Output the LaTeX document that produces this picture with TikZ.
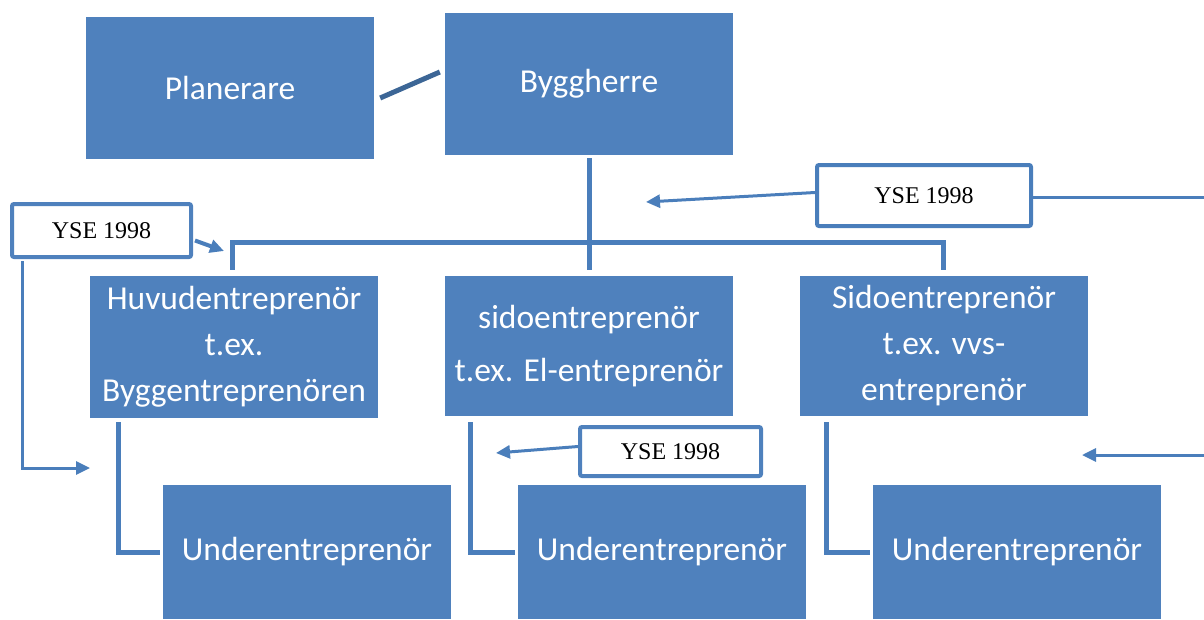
\documentclass[tikz,border=0pt]{standalone}
\usepackage{fontspec}
\setmainfont{Carlito}
\newfontfamily\ysefont{Liberation Serif}
\usetikzlibrary{arrows.meta}
\definecolor{boxblue}{HTML}{4F81BD}
\definecolor{lineblue}{HTML}{4A7EBB}
\definecolor{darkline}{HTML}{3C6696}
\tikzset{
  box/.style={fill=boxblue, draw=none, minimum width=288pt, minimum height=142pt, inner sep=0pt,
    text=white, align=center, font=\fontsize{33.5}{46}\selectfont},
  ysebox/.style={draw=boxblue, line width=4pt, rounded corners=2pt, fill=white, inner sep=0pt,
    font=\ysefont\fontsize{24}{26}\selectfont},
  conn/.style={draw=lineblue, line width=5pt},
  arr/.style={draw=lineblue, line width=3pt, -{Triangle[length=14pt,width=13pt]}},
}
\begin{document}
\begin{tikzpicture}[x=1pt,y=-1pt]
\useasboundingbox (0,0) rectangle (1204,619);
% boxes
\node[box] (plan) at (230,87.5) {Planerare};
\node[box] (bygg) at (589,84) {Byggherre};
\node[box] (huvud) at (234,347) {Huvudentreprenör\\t.ex.\\Byggentreprenören};
\node[box, minimum height=140pt] (sido) at (589,346) {sidoentreprenör\\[7pt]t.ex. El-entreprenör};
\node[box, minimum height=140pt] (sidoR) at (944,346) {Sidoentreprenör\\t.ex. vvs-\\entreprenör};
\node[box, minimum height=134pt] (ue1) at (307,552) {Underentreprenör};
\node[box, minimum height=134pt] (ue2) at (662,552) {Underentreprenör};
\node[box, minimum height=134pt] (ue3) at (1017,552) {Underentreprenör};
% YSE boxes
\node[ysebox, minimum width=179pt, minimum height=53pt] (yseA) at (101.5,230.5) {YSE 1998};
\node[ysebox, draw=lineblue, minimum width=214pt, minimum height=61pt] (yseB) at (924,195.5) {YSE 1998};
\node[ysebox, minimum width=181pt, minimum height=49pt] (yseC) at (670.5,451.5) {YSE 1998};
% coordinates
\coordinate (bar) at (589,242);
\coordinate (tA) at (224,251);
\coordinate (tL) at (90,468);
\coordinate (tB) at (646,202);
\coordinate (eB) at (1204,197);
\coordinate (sR) at (1204,455);
\coordinate (tR) at (1082,455);
\coordinate (tC) at (496,453);
% connectors
\draw[draw=darkline, line width=5pt] ([xshift=6pt,yshift=-10.5pt]plan.east) -- ([xshift=-5pt,yshift=12pt]bygg.west);
\draw[conn] ([yshift=-3pt]bygg.south) -- ([yshift=6pt]sido.north);
\draw[conn] ([xshift=-2pt,yshift=6pt]huvud.north) |- (bar) -| ([xshift=-1pt,yshift=6pt]sidoR.north);
\draw[conn] ([xshift=-116pt,yshift=-4pt]huvud.south) |- ([xshift=-3pt]ue1.west);
\draw[conn] ([xshift=-119pt,yshift=-6pt]sido.south) |- ([xshift=-3pt]ue2.west);
\draw[conn] ([xshift=-118pt,yshift=-6pt]sidoR.south) |- ([xshift=-3pt]ue3.west);
% YSE arrows
\draw[arr, line width=4pt] ([xshift=2pt,yshift=-10pt]yseA.east) -- (tA);
\draw[arr] ([xshift=-79.5pt,yshift=-2pt]yseA.south) |- (tL);
\draw[arr] ([yshift=3pt]yseB.west) -- (tB);
\draw[draw=lineblue, line width=3pt] ([yshift=-1.5pt]yseB.east) -- (eB);
\draw[arr] (sR) -- (tR);
\draw[arr] ([yshift=5pt]yseC.west) -- (tC);
\end{tikzpicture}
\end{document}
